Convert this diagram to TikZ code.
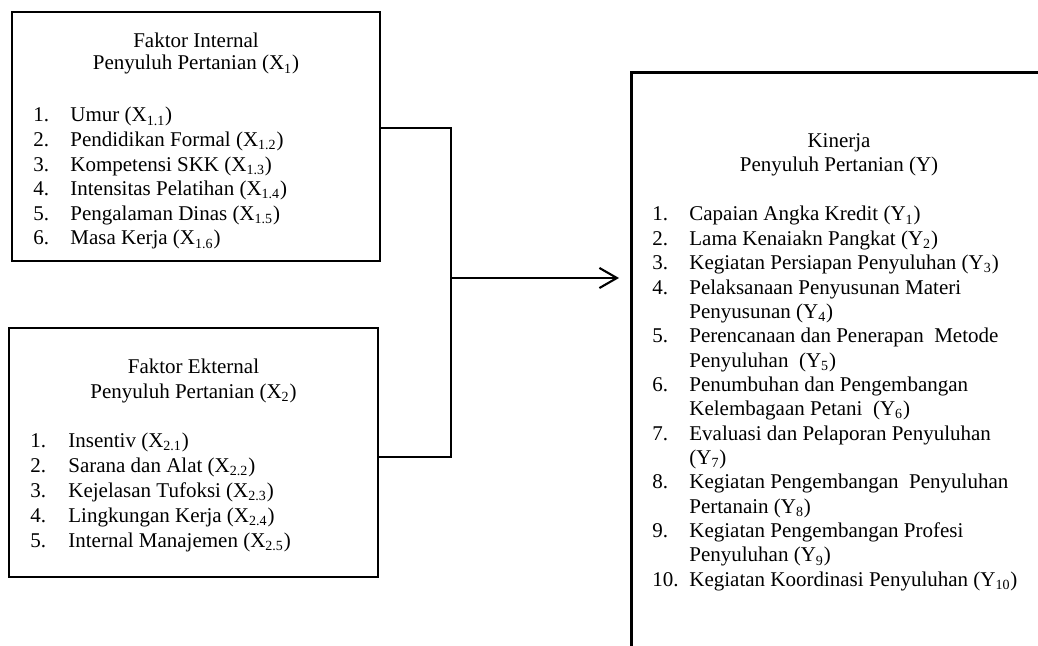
\documentclass[tikz,border=0pt]{standalone}
\usepackage{fontspec}
\setmainfont{Liberation Serif}
\usetikzlibrary{positioning, arrows.meta, calc}
\newcommand{\txtsize}{\fontsize{12}{14}\selectfont}
\tikzset{
  frame box/.style={rectangle, draw, line width=1.6pt, inner sep=0pt},
  ttl/.style={font=\txtsize, anchor=base, inner sep=0pt},
  num/.style={font=\txtsize, anchor=base west, inner sep=0pt},
  item/.style={num},
  link/.style={line width=1.2pt},
  arr/.style={link, -{Straight Barb[length=10pt, width=11.5pt]}},
}

\begin{document}
\begin{tikzpicture}[x=0.5714pt, y=-0.5714pt]
    \useasboundingbox (0,0) rectangle (1038,646);
    \clip (0,0) rectangle (1038,646);

    % boxes
    \node[frame box, minimum width=210.3pt, minimum height=142.3pt] (int) at (196,136.5) {};
    \node[frame box, minimum width=210.9pt, minimum height=142.3pt] (ext) at (193.5,452.5) {};
    \node[frame box, minimum width=343pt, minimum height=400pt, anchor=north west] (kin) at (630,71) {};

    % faktor internal
    \node[ttl] (int_t1) at (196,48) {Faktor Internal};
    \node[ttl] (int_t2) at (196,70) {Penyuluh Pertanian (X\textsubscript{1})};
    \foreach \t [count=\i] in {Umur (X\textsubscript{1.1}), Pendidikan Formal (X\textsubscript{1.2}),
        Kompetensi SKK (X\textsubscript{1.3}), Intensitas Pelatihan (X\textsubscript{1.4}),
        Pengalaman Dinas (X\textsubscript{1.5}), Masa Kerja (X\textsubscript{1.6})} {
      \node[num] (int_n\i) at (33,{122+24.6*(\i-1)}) {\i.};
      \node[item] (int_i\i) at (70,{122+24.6*(\i-1)}) {\t};
    }

    % faktor eksternal
    \node[ttl] (ext_t1) at (193.5,373) {Faktor Ekternal};
    \node[ttl] (ext_t2) at (193.5,398) {Penyuluh Pertanian (X\textsubscript{2})};
    \foreach \t [count=\i] in {Insentiv (X\textsubscript{2.1}), Sarana dan Alat (X\textsubscript{2.2}),
        Kejelasan Tufoksi (X\textsubscript{2.3}), Lingkungan Kerja (X\textsubscript{2.4}),
        Internal Manajemen (X\textsubscript{2.5})} {
      \node[num] (ext_n\i) at (30,{447+25*(\i-1)}) {\i.};
      \node[item] (ext_i\i) at (68,{447+25*(\i-1)}) {\t};
    }

    % kinerja
    \node[ttl] (kin_t1) at (839,148) {Kinerja};
    \node[ttl] (kin_t2) at (839,172) {Penyuluh Pertanian (Y)};
    \foreach \n/\t [count=\i from 0] in {1./Capaian Angka Kredit (Y\textsubscript{1}),
        2./Lama Kenaiakn Pangkat (Y\textsubscript{2}),
        3./Kegiatan Persiapan Penyuluhan (Y\textsubscript{3}),
        4./Pelaksanaan Penyusunan Materi,
        /Penyusunan (Y\textsubscript{4}),
        5./Perencanaan dan Penerapan\ \ Metode,
        /Penyuluhan\ \ (Y\textsubscript{5}),
        6./Penumbuhan dan Pengembangan,
        /Kelembagaan Petani\ \ (Y\textsubscript{6}),
        7./Evaluasi dan Pelaporan Penyuluhan,
        /(Y\textsubscript{7}),
        8./Kegiatan Pengembangan\ \ Penyuluhan,
        /Pertanain (Y\textsubscript{8}),
        9./Kegiatan Pengembangan Profesi,
        /Penyuluhan (Y\textsubscript{9}),
        10./Kegiatan Koordinasi Penyuluhan (Y\textsubscript{10})} {
      \node[num] (kin_n\i) at (652,{221+24.35*\i}) {\n};
      \node[item] (kin_i\i) at (689,{221+24.35*\i}) {\t};
    }

    % connectors
    \coordinate (jn) at (451,278);
    \draw[link] ($(int.east)+(0,-8.5)$) -| (jn);
    \draw[link] ($(ext.east)+(0,4.5)$) -| (jn);
    \draw[arr] (jn) -- ($(kin.west |- jn)+(-11,0)$);
\end{tikzpicture}
\end{document}
